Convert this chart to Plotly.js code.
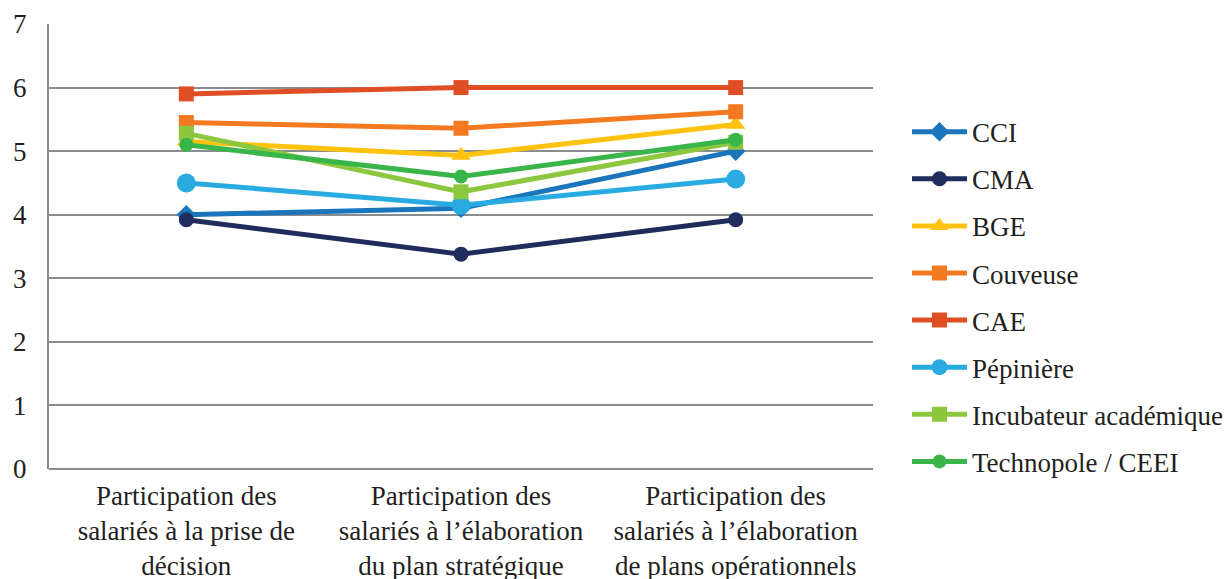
<!DOCTYPE html>
<html>
<head>
<meta charset="utf-8">
<script src="https://cdn.plot.ly/plotly-3.0.1.min.js"></script>
<style>html,body{margin:0;padding:0;background:#fff;}#chart{width:1232px;height:579px;}</style>
</head>
<body>
<div id="chart"></div>
<script>
const categories = [
  "Participation des<br>salariés à la prise de<br>décision",
  "Participation des<br>salariés à l’élaboration<br>du plan stratégique",
  "Participation des<br>salariés à l’élaboration<br>de plans opérationnels"
];
const seriesNames = ["CCI", "CMA", "BGE", "Couveuse", "CAE", "Pépinière", "Incubateur académique", "Technopole / CEEI"];
const cci = [4.0, 4.1, 5.0];
const cma = [3.92, 3.38, 3.92];
const bge = [5.15, 4.93, 5.42];
const couveuse = [5.45, 5.36, 5.62];
const cae = [5.9, 6.0, 6.0];
const pepiniere = [4.5, 4.15, 4.56];
const incubateur = [5.28, 4.36, 5.14];
const technopole = [5.1, 4.6, 5.18];
const yTicks = [0, 1, 2, 3, 4, 5, 6, 7];

const seriesValues = [cci, cma, bge, couveuse, cae, pepiniere, incubateur, technopole];
const colors = ["#1b75bc", "#1f2c5c", "#ffc20e", "#f37a21", "#e04e26", "#29abe2", "#8dc63f", "#39b54a"];
const symbols = ["diamond", "circle", "triangle-up", "square", "square", "circle", "square", "circle"];
const sizes = [15, 15, 17, 15, 15, 19, 15, 14];

const traces = seriesNames.map((name, i) => ({
  type: "scatter",
  mode: "lines+markers",
  name: name,
  legendgroup: "g" + i,
  x: categories,
  y: seriesValues[i],
  line: {color: colors[i], width: 5},
  marker: {color: colors[i], symbol: symbols[i], size: sizes[i]},
  cliponaxis: false
}));

const SERIF = "'Liberation Serif', 'Times New Roman', Times, serif";

const layout = {
  width: 1232,
  height: 579,
  margin: {l: 49, r: 359, t: 24, b: 110},
  paper_bgcolor: "#ffffff",
  plot_bgcolor: "#ffffff",
  font: {family: SERIF, size: 27, color: "#231f20"},
  showlegend: true,
  legend: {
    xref: "container",
    x: 0.7362, xanchor: "left",
    y: 0.812, yanchor: "top",
    traceorder: "grouped",
    tracegroupgap: 9,
    itemwidth: 55,
    font: {family: SERIF, size: 27, color: "#231f20"},
    bgcolor: "rgba(0,0,0,0)"
  },
  xaxis: {
    type: "category",
    range: [-0.5, 2.5],
    showgrid: false,
    showline: false,
    zeroline: false,
    ticks: "",
    ticklabelstandoff: 8,
    tickfont: {family: SERIF, size: 27},
    tickangle: 0
  },
  yaxis: {
    range: [0, 7],
    tickvals: yTicks,
    ticktext: yTicks.map(String),
    showgrid: true,
    gridcolor: "#8a8d8f",
    gridwidth: 2,
    zeroline: true,
    zerolinecolor: "#8a8d8f",
    zerolinewidth: 2,
    showline: true,
    linecolor: "#8a8d8f",
    linewidth: 2,
    ticks: "",
    ticklabelstandoff: 15,
    tickfont: {family: SERIF, size: 27}
  }
};

Plotly.newPlot("chart", traces, layout, {displayModeBar: false, staticPlot: true});
</script>
</body>
</html>
